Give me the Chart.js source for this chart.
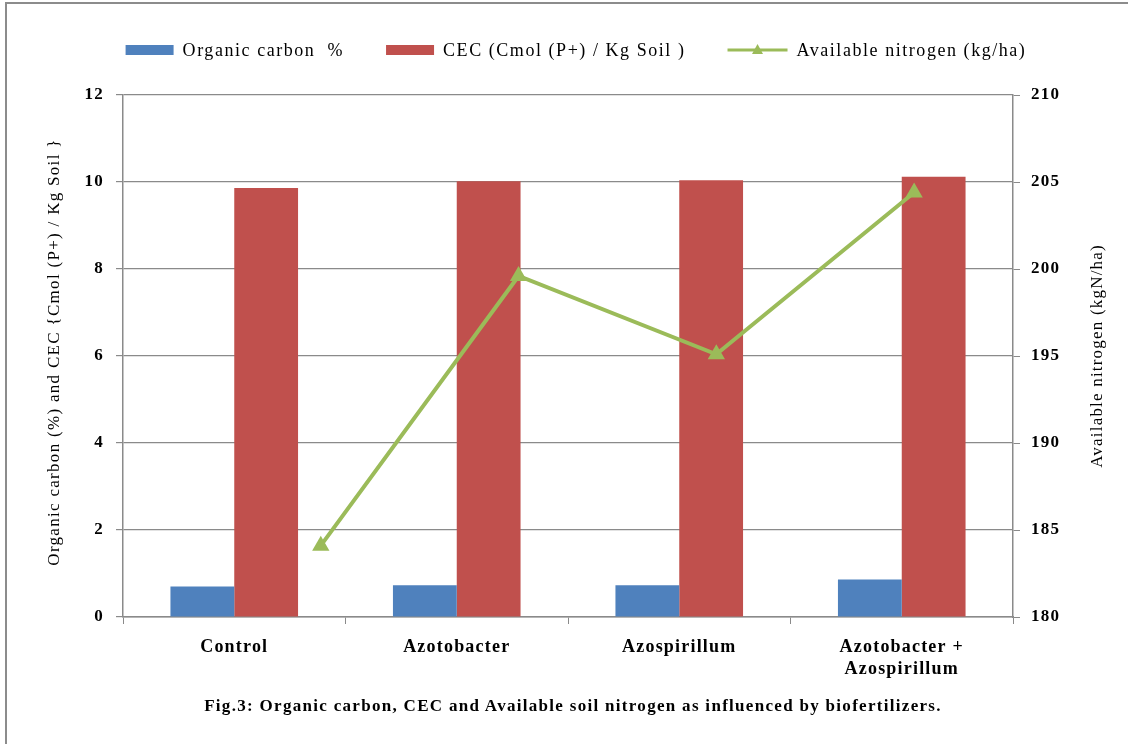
<!DOCTYPE html>
<html>
<head>
<meta charset="utf-8">
<script src="https://cdn.jsdelivr.net/npm/chart.js@4.4.0/dist/chart.umd.min.js"></script>
<style>
  html, body { margin: 0; padding: 0; background: #fff; }
  #wrap { position: relative; width: 1128px; height: 744px; overflow: hidden; }
  #frame { position: absolute; left: 5px; top: 2px; width: 1200px; height: 800px; border-left: 2px solid #8c8c8c; border-top: 2px solid #8c8c8c; }
  #caption { position: absolute; left: 0; width: 1146px; top: 696px; line-height: 20px; text-align: center; font: bold 17px "Liberation Serif"; letter-spacing: 1.3px; color: #000; }
  canvas { position: absolute; left: 0; top: 0; }
</style>
</head>
<body>
<div id="wrap">
  <div id="frame"></div>
  <canvas id="chart" width="1128" height="744"></canvas>
  <div id="caption">Fig.3: Organic carbon, CEC and Available soil nitrogen as influenced by biofertilizers.</div>
</div>
<script>
const categories = [['Control'], ['Azotobacter'], ['Azospirillum'], ['Azotobacter +', 'Azospirillum']];
const organicCarbon = [0.70, 0.73, 0.73, 0.86];
const cec = [9.86, 10.02, 10.04, 10.12];
const nitrogen = [184.1, 199.6, 195.1, 204.4];
const leftTicks = [0, 2, 4, 6, 8, 10, 12];
const rightTicks = [180, 185, 190, 195, 200, 205, 210];

const serif = '"Liberation Serif", "Times New Roman", serif';
const gridGray = '#8a8a8a';

// Excel-like wide text: canvas state is reset on resize, so set it before layout and draw
const spacingPlugin = {
    id: 'spacing',
    beforeLayout(chart) { chart.ctx.letterSpacing = '1.2px'; },
    beforeDraw(chart) { chart.ctx.letterSpacing = '1.2px'; }
};

// legend drawn by hand so the line item can show line + triangle like Excel
const legendPlugin = {
    id: 'excelLegend',
    afterDraw(chart) {
        const ctx = chart.ctx;
        ctx.save();
        ctx.font = '18px ' + serif;
        ctx.letterSpacing = '1.55px';
        ctx.textBaseline = 'middle';
        const y = 50;
        const gap = 9, spacing = 42;
        const sets = chart.data.datasets;
        const ordered = sets.filter(d => d.type === 'bar').concat(sets.filter(d => d.type === 'line'));
        const items = ordered.map(ds => ({
            ds: ds,
            symW: ds.type === 'line' ? 60 : 48,
            textW: ctx.measureText(ds.label).width
        }));
        const total = items.reduce((s, it) => s + it.symW + gap + it.textW, 0) + spacing * (items.length - 1);
        let x = 576 - total / 2;
        items.forEach(it => {
            if (it.ds.type === 'line') {
                ctx.strokeStyle = it.ds.borderColor;
                ctx.lineWidth = 3;
                ctx.beginPath();
                ctx.moveTo(x, y);
                ctx.lineTo(x + it.symW, y);
                ctx.stroke();
                ctx.fillStyle = it.ds.borderColor;
                ctx.beginPath();
                const cx = x + it.symW / 2;
                ctx.moveTo(cx, y - 6);
                ctx.lineTo(cx + 5.5, y + 4);
                ctx.lineTo(cx - 5.5, y + 4);
                ctx.closePath();
                ctx.fill();
            } else {
                ctx.fillStyle = it.ds.backgroundColor;
                ctx.fillRect(x, y - 5, it.symW, 10);
            }
            ctx.fillStyle = '#000';
            ctx.fillText(it.ds.label, x + it.symW + gap, y + 1);
            x += it.symW + gap + it.textW + spacing;
        });
        ctx.restore();
    }
};

// both axis titles read bottom-to-top (Chart.js would flip the right one)
const axisTitlePlugin = {
    id: 'axisTitles',
    afterDraw(chart) {
        const ctx = chart.ctx;
        const midY = (chart.chartArea.top + chart.chartArea.bottom) / 2;
        const drawTitle = (text, x, y, spacing) => {
            ctx.save();
            ctx.translate(x, y);
            ctx.rotate(-Math.PI / 2);
            ctx.font = '17px ' + serif;
            ctx.letterSpacing = spacing;
            ctx.fillStyle = '#000';
            ctx.textAlign = 'center';
            ctx.textBaseline = 'middle';
            ctx.fillText(text, 0, 0);
            ctx.restore();
        };
        drawTitle('Organic carbon (%) and CEC {Cmol (P+) / Kg Soil }', 55, midY - 4, '1.3px');
        drawTitle('Available nitrogen (kgN/ha)', 1098, midY, '1.2px');
    }
};

const ctx = document.getElementById('chart').getContext('2d');
new Chart(ctx, {
    data: {
        labels: categories,
        datasets: [
            // listed first: Chart.js v4 splits bar groups per x axis in dataset order,
            // so the bars land in the second half and sit centred on the category
            {
                type: 'line',
                label: 'Available nitrogen (kg/ha)',
                data: nitrogen.map((v, i) => ({ x: i, y: v })),
                borderColor: '#9bbb59',
                backgroundColor: '#9bbb59',
                borderWidth: 4,
                pointStyle: 'triangle',
                pointRadius: 10,
                pointBorderWidth: 0,
                yAxisID: 'y1',
                xAxisID: 'xLine',
                order: 1
            },
            {
                type: 'bar',
                label: 'Organic carbon  %',
                data: organicCarbon,
                backgroundColor: '#4f81bd',
                yAxisID: 'y',
                xAxisID: 'x',
                barPercentage: 1,
                categoryPercentage: 1.147,
                order: 2
            },
            {
                type: 'bar',
                label: 'CEC (Cmol (P+) / Kg Soil )',
                data: cec,
                backgroundColor: '#c0504d',
                yAxisID: 'y',
                xAxisID: 'x',
                barPercentage: 1,
                categoryPercentage: 1.147,
                order: 2
            }
        ]
    },
    options: {
        responsive: false,
        animation: false,
        layout: { padding: { top: 95, left: 0, right: 0, bottom: 0 } },
        plugins: {
            legend: { display: false },
            tooltip: { enabled: false }
        },
        scales: {
            x: {
                type: 'category',
                offset: true,
                grid: {
                    offset: true,
                    drawOnChartArea: false,
                    color: gridGray,
                    tickLength: 7
                },
                border: { color: gridGray, width: 1.5 },
                ticks: {
                    color: '#000',
                    font: { family: serif, size: 18, weight: 'bold', lineHeight: 1.2 },
                    padding: 13,
                    maxRotation: 0,
                    autoSkip: false
                },
                afterFit: s => { s.height = 127; }
            },
            xLine: {
                type: 'linear',
                display: false,
                min: -1,
                max: 3.5
            },
            y: {
                position: 'left',
                min: leftTicks[0],
                max: leftTicks[leftTicks.length - 1],
                afterBuildTicks: s => { s.ticks = leftTicks.map(v => ({ value: v })); },
                grid: { color: gridGray, lineWidth: 1.2, tickLength: 7 },
                border: { color: gridGray, width: 1.5 },
                ticks: {
                    color: '#000',
                    font: { family: serif, size: 17, weight: 'bold' },
                    padding: 12
                },
                afterFit: s => { s.width = 123; }
            },
            y1: {
                position: 'right',
                min: rightTicks[0],
                max: rightTicks[rightTicks.length - 1],
                afterBuildTicks: s => { s.ticks = rightTicks.map(v => ({ value: v })); },
                grid: { drawOnChartArea: false, color: gridGray, tickLength: 7 },
                border: { color: gridGray, width: 1.5 },
                ticks: {
                    color: '#000',
                    font: { family: serif, size: 17, weight: 'bold' },
                    padding: 11
                },
                afterFit: s => { s.width = 115; }
            }
        }
    },
    plugins: [spacingPlugin, legendPlugin, axisTitlePlugin]
});
</script>
</body>
</html>
